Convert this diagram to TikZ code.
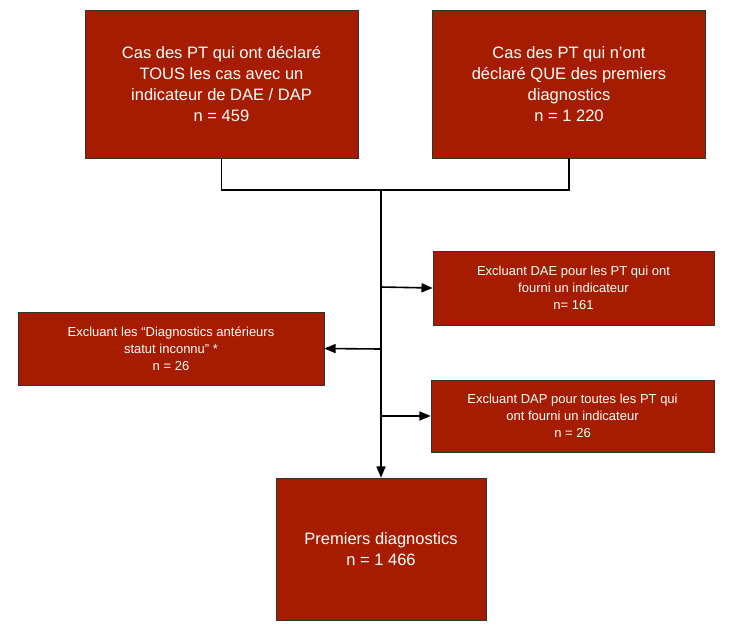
\documentclass[tikz,border=0pt]{standalone}
\usepackage{fontspec}
\setmainfont{Liberation Sans}
\usetikzlibrary{arrows}
\definecolor{boxred}{HTML}{A61C00}
\tikzset{%
  block/.style    = {draw=black!80, line width=0.8pt, fill=boxred, text=white, rectangle, align=center},
  big/.style      = {block, font=\fontsize{16.5}{21}\selectfont},
  small/.style    = {block, font=\fontsize{13}{17}\selectfont},
  output/.style   = {coordinate}, % branch point
}
\begin{document}
\begin{tikzpicture}[x=1pt, y=-1pt, line width=1.6pt, >=triangle 45]
	\useasboundingbox (0,0) rectangle (735,633);

	\node at (221.5,84) [big, minimum width=273pt, minimum height=148pt] (toutcas) {Cas des PT qui ont déclaré\\TOUS les cas avec un\\indicateur de DAE / DAP\\n = 459};
	\node at (569,84) [big, minimum width=273pt, minimum height=148pt] (premcas) {Cas des PT qui n’ont\\déclaré QUE des premiers\\diagnostics\\n = 1 220};

	\node at (573.5,288) [small, minimum width=281pt, minimum height=74pt] (exdae) {Excluant DAE pour les PT qui ont\\fourni un indicateur\\n= 161};
	\node at (171,348.5) [small, minimum width=306pt, minimum height=73pt] (exinc) {Excluant les “Diagnostics antérieurs\\statut inconnu” *\\n = 26};
	\node at (572.5,416) [small, minimum width=283pt, minimum height=72pt] (exdap) {Excluant DAP pour toutes les PT qui\\ont fourni un indicateur\\n = 26};

	\node at (381,549) [big, minimum width=210pt, minimum height=142pt] (premiers) {Premiers diagnostics\\n = 1 466};

	\node [output] at (381,190) (join) {};
	\node [output] at (381,287) (bp1) {};
	\node [output] at (381,349) (bp2) {};
	\node [output] at (381,416) (bp3) {};

	\draw (toutcas.south) |- (join) -| (premcas.south);
	\draw[->] (join) -- (premiers.north);
	\draw[->] (bp1) -- (exdae.west);
	\draw[->] (bp2) -- (exinc.east);
	\draw[->] (bp3) -- (exdap.west);

\end{tikzpicture}
\end{document}
